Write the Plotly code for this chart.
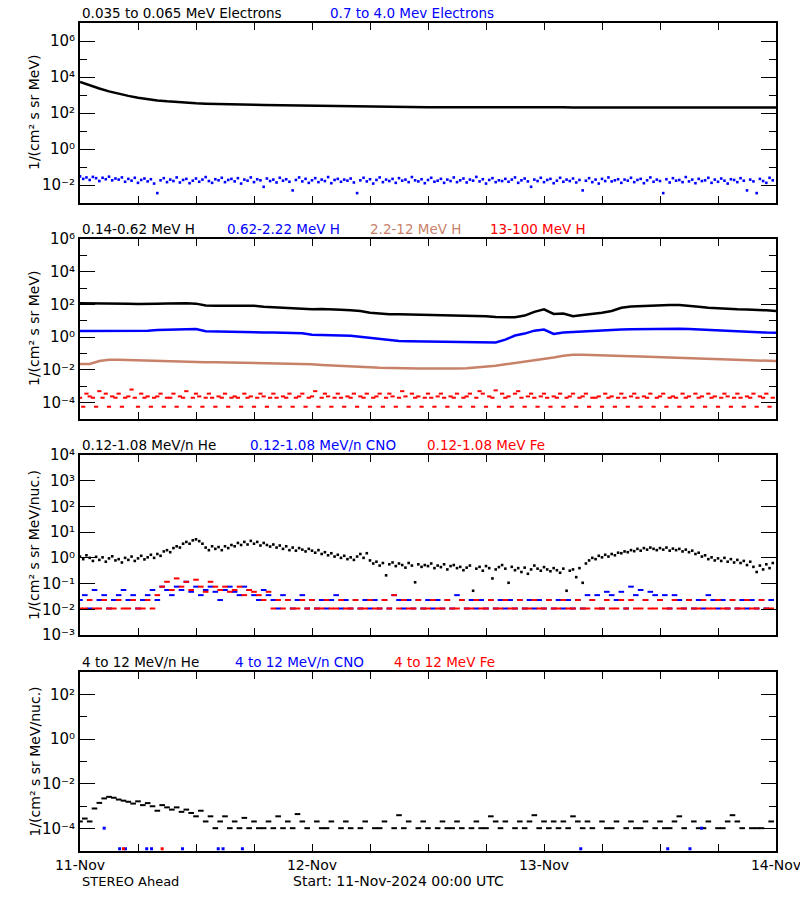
import plotly.graph_objects as go
import pandas as pd

START = "2024-11-11 00:00"
t_hourly = pd.date_range(START, periods=73, freq="h")
t_half = pd.date_range(START, periods=144, freq="30min")
t_20 = pd.date_range(START, periods=216, freq="20min")
day_ticks = pd.date_range(START, periods=4, freq="24h")
day_labels = ["11-Nov", "12-Nov", "13-Nov", "14-Nov"]
six_hour_ticks = pd.date_range(START, periods=13, freq="6h")

# ---------------- data (log10 of flux) ----------------
# Panel 1: electrons (hourly / 20-min)
e_low_log = [3.72, 3.52, 3.36, 3.20, 3.06, 2.95, 2.85, 2.76, 2.70, 2.65,
             2.60, 2.57, 2.54, 2.52, 2.50, 2.49, 2.48, 2.47, 2.46, 2.45,
             2.44, 2.43, 2.42, 2.41, 2.40, 2.39, 2.38, 2.37, 2.36, 2.35,
             2.35, 2.34, 2.33, 2.33, 2.32, 2.32, 2.32, 2.32, 2.32, 2.33,
             2.35, 2.36, 2.36, 2.36, 2.35, 2.35, 2.34, 2.33, 2.32, 2.32,
             2.32, 2.31, 2.31, 2.31, 2.31, 2.31, 2.32, 2.32, 2.31, 2.31,
             2.31, 2.31, 2.31, 2.31, 2.31, 2.31, 2.31, 2.30, 2.30, 2.30,
             2.30, 2.30, 2.30]
e_high_log = [-1.52, -1.66, -1.58, -1.72, -1.55, -1.62, -1.78, -1.60, -1.68, -1.54, -1.74, -1.64,
              -1.70, -1.58, -1.82, -1.66, -1.76, -1.60, -1.88, -1.72, -1.64, -1.80, -1.68, -1.92,
              -2.45, -1.74, -1.62, -1.84, -1.70, -1.78, -1.58, -1.86, -1.72, -1.66, -1.90, -1.76,
              -1.64, -1.82, -1.70, -1.56, -1.78, -1.88, -1.68, -1.74, -1.60, -1.84, -1.72, -1.66,
              -1.80, -1.62, -1.92, -1.70, -1.76, -1.58, -1.84, -1.68, -1.74, -2.10, -1.64, -1.78,
              -1.70, -1.86, -1.60, -1.76, -1.68, -1.82, -2.30, -1.72, -1.58, -1.80, -1.66, -1.88,
              -1.74, -1.62, -1.84, -1.70, -1.78, -1.56, -1.90, -1.72, -1.66, -1.82, -1.70, -1.76,
              -1.64, -1.86, -2.45, -1.74, -1.60, -1.80, -1.68, -1.92, -1.72, -1.58, -1.84, -1.70,
              -1.78, -1.66, -1.88, -1.62, -1.76, -1.70, -1.84, -1.56, -1.74, -1.80, -1.68, -1.90,
              -1.72, -1.60, -1.82, -1.76, -1.66, -1.88, -1.70, -1.78, -1.58, -1.84, -1.74, -1.64,
              -1.86, -1.70, -1.76, -1.55, -1.80, -1.68, -1.92, -1.72, -1.62, -1.84, -1.74, -1.78,
              -1.66, -1.82, -1.70, -1.58, -1.88, -1.74, -1.64, -1.80, -2.10, -1.70, -1.78, -1.60,
              -1.84, -1.72, -1.66, -1.90, -1.76, -1.60, -1.82, -1.70, -1.78, -1.64, -1.86, -1.72,
              -2.30, -1.76, -1.62, -1.84, -1.70, -1.92, -1.66, -1.78, -1.58, -1.80, -1.74, -1.68,
              -1.88, -1.70, -1.76, -1.60, -1.84, -1.72, -1.66, -1.90, -1.74, -1.58, -1.82, -1.70,
              -1.78, -2.45, -1.68, -1.86, -1.62, -1.76, -1.72, -1.84, -1.56, -1.80, -1.70, -1.90,
              -1.66, -1.78, -1.74, -1.60, -1.88, -1.70, -1.82, -1.64, -1.76, -1.92, -1.68, -1.72,
              -1.84, -1.62, -1.76, -2.30, -1.70, -1.80, -2.45, -1.66, -1.78, -1.88, -1.60, -1.74]

# Panel 2: protons (hourly / 20-min)
h1_log = [2.07, 2.07, 2.08, 2.07, 2.06, 2.05, 2.03, 2.02, 2.05, 2.06,
          2.08, 2.07, 2.05, 1.93, 1.92, 1.92, 1.93, 1.95, 1.92, 1.86,
          1.82, 1.79, 1.78, 1.74, 1.70, 1.72, 1.72, 1.68, 1.64, 1.60,
          1.50, 1.43, 1.40, 1.40, 1.39, 1.37, 1.36, 1.35, 1.35, 1.34,
          1.33, 1.32, 1.28, 1.23, 1.21, 1.22, 1.32, 1.55, 1.70, 1.42,
          1.45, 1.28, 1.36, 1.42, 1.50, 1.60, 1.80, 1.88, 1.90, 1.94,
          1.97, 1.97, 1.96, 1.93, 1.86, 1.80, 1.76, 1.72, 1.70, 1.69,
          1.68, 1.64, 1.60]
h2_log = [0.38, 0.38, 0.37, 0.38, 0.37, 0.36, 0.38, 0.40, 0.44, 0.46,
          0.48, 0.52, 0.50, 0.37, 0.35, 0.34, 0.33, 0.32, 0.30, 0.29,
          0.28, 0.27, 0.26, 0.24, 0.15, 0.12, 0.11, 0.10, 0.09, 0.02,
          -0.06, -0.14, -0.20, -0.24, -0.25, -0.26, -0.27, -0.27, -0.28, -0.28,
          -0.29, -0.30, -0.31, -0.32, -0.15, 0.10, 0.22, 0.40, 0.47, 0.20,
          0.28, 0.31, 0.38, 0.40, 0.43, 0.45, 0.47, 0.48, 0.49, 0.50,
          0.52, 0.54, 0.52, 0.50, 0.47, 0.42, 0.40, 0.36, 0.33, 0.31,
          0.29, 0.28, 0.27]
h3_log = [-1.64, -1.64, -1.46, -1.38, -1.38, -1.40, -1.41, -1.42, -1.43, -1.44,
          -1.46, -1.49, -1.52, -1.53, -1.53, -1.54, -1.55, -1.56, -1.57, -1.58,
          -1.58, -1.59, -1.60, -1.62, -1.66, -1.70, -1.72, -1.74, -1.76, -1.78,
          -1.84, -1.87, -1.89, -1.90, -1.91, -1.92, -1.92, -1.93, -1.93, -1.92,
          -1.90, -1.86, -1.80, -1.74, -1.66, -1.58, -1.52, -1.44, -1.34, -1.24,
          -1.14, -1.07, -1.07, -1.08, -1.09, -1.11, -1.13, -1.16, -1.18, -1.20,
          -1.22, -1.23, -1.25, -1.27, -1.30, -1.33, -1.36, -1.38, -1.40, -1.42,
          -1.44, -1.45, -1.46]
h4_log = [-3.70, -4.25, -3.45, -3.62, -3.70, -4.25, -3.30, -3.70, -3.45, -4.25, -3.62, -3.70,
          -3.45, -4.25, -3.70, -3.62, -3.20, -3.70, -4.25, -3.45, -3.70, -3.62, -4.25, -3.70,
          -3.62, -3.45, -4.25, -3.70, -3.70, -3.45, -4.25, -3.62, -3.70, -3.30, -4.25, -3.70,
          -3.45, -3.62, -4.25, -3.70, -3.45, -3.70, -4.25, -3.62, -3.70, -3.45, -4.25, -3.70,
          -3.62, -3.70, -4.25, -3.45, -3.70, -3.62, -4.25, -3.70, -3.45, -3.62, -4.25, -3.70,
          -3.45, -3.70, -4.25, -3.62, -3.70, -3.45, -4.25, -3.70, -3.62, -3.45, -4.25, -3.70,
          -3.62, -3.30, -4.25, -3.70, -3.45, -3.62, -4.25, -3.70, -3.45, -3.70, -4.25, -3.62,
          -3.70, -3.45, -4.25, -3.62, -3.70, -3.45, -4.25, -3.70, -3.62, -3.45, -4.25, -3.70,
          -3.45, -3.62, -4.25, -3.70, -3.30, -3.62, -4.25, -3.45, -3.70, -3.62, -4.25, -3.70,
          -3.45, -3.70, -4.25, -3.62, -3.45, -3.70, -4.25, -3.62, -3.70, -3.45, -4.25, -3.70,
          -3.62, -3.45, -4.25, -3.70, -3.30, -3.45, -4.25, -3.62, -3.70, -3.25, -4.25, -3.45,
          -3.70, -3.62, -4.25, -3.45, -3.30, -3.70, -4.25, -3.62, -3.45, -3.70, -4.25, -3.62,
          -3.45, -3.70, -4.25, -3.62, -3.70, -3.45, -4.25, -3.70, -3.62, -3.45, -4.25, -3.70,
          -3.62, -3.45, -4.25, -3.70, -3.70, -3.62, -4.25, -3.45, -3.70, -3.62, -4.25, -3.70,
          -3.45, -3.70, -4.25, -3.62, -3.45, -3.70, -4.25, -3.62, -3.70, -3.45, -4.25, -3.70,
          -3.62, -3.45, -4.25, -3.70, -3.62, -3.70, -4.25, -3.45, -3.70, -3.62, -4.25, -3.45,
          -3.70, -3.62, -4.25, -3.45, -3.70, -3.62, -4.25, -3.70, -3.45, -3.62, -4.25, -3.70,
          -3.45, -3.70, -4.25, -3.62, -3.70, -3.45, -4.25, -3.62, -3.70, -3.45, -4.25, -3.70]

# Panel 3: 0.12-1.08 MeV/n heavy ions (He 20-min, CNO/Fe 30-min)
he_low_log = [0.05, -0.05, 0.10, 0.00, -0.12, 0.04, -0.08, 0.02, -0.15, -0.02, 0.06, -0.10,
              -0.05, -0.18, 0.00, -0.08, 0.05, -0.12, -0.02, 0.08, -0.06, 0.02, 0.12, 0.00,
              0.15, 0.08, 0.25, 0.30, 0.22, 0.38, 0.45, 0.40, 0.55, 0.62, 0.55, 0.68,
              0.72, 0.65, 0.55, 0.40, 0.30, 0.45, 0.35, 0.42, 0.30, 0.45, 0.38, 0.50,
              0.45, 0.58, 0.50, 0.62, 0.52, 0.66, 0.55, 0.62, 0.48, 0.58, 0.50, 0.44,
              0.52, 0.40, 0.48, 0.35, 0.45, 0.30, 0.40, 0.28, 0.38, 0.32, 0.25, 0.35,
              0.28, 0.20, 0.30, 0.15, 0.22, 0.10, 0.18, 0.05, 0.12, 0.00, 0.08, -0.05,
              0.02, -0.08, 0.05, 0.15, 0.00, 0.18, -0.10, -0.22, -0.15, -0.30, -0.20, -0.68,
              -0.25, -0.18, -0.32, -0.22, -0.28, -0.38, -0.20, -0.30, -0.95, -0.25, -0.35, -0.28,
              -0.32, -0.22, -0.40, -0.30, -0.36, -0.25, -0.45, -0.32, -0.28, -0.40, -0.35, -0.48,
              -0.38, -0.30, -1.28, -0.42, -0.35, -0.50, -0.32, -0.40, -0.80, -0.45, -0.36, -0.28,
              -0.42, -0.97, -0.35, -0.48, -0.40, -0.55, -0.38, -0.62, -0.45, -0.30, -0.42, -0.50,
              -0.36, -0.45, -0.52, -0.40, -0.48, -0.58, -0.42, -1.28, -0.50, -0.45, -0.75, -0.40,
              -0.97, -0.22, -0.10, 0.00, -0.05, 0.08, 0.02, 0.12, 0.05, 0.15, 0.10, 0.20,
              0.18, 0.25, 0.22, 0.30, 0.26, 0.35, 0.28, 0.38, 0.32, 0.40, 0.35, 0.30,
              0.38, 0.32, 0.40, 0.28, 0.36, 0.30, 0.35, 0.25, 0.32, 0.22, 0.28, 0.15,
              0.20, 0.05, 0.10, -0.05, 0.02, -0.10, -0.02, -0.12, 0.00, -0.15, -0.05, -0.18,
              -0.08, -0.20, -0.12, -0.28, -0.15, -0.35, -0.55, -0.30, -0.45, -0.25, -0.40, -0.20]
cno_low_log = [-1.64, -1.45, -1.97, -1.25, -1.64, -1.45, -1.97, -1.64, -1.45, -1.25,
               -1.64, -1.45, -1.97, -1.64, -1.45, -1.25, -1.64, -1.12, -1.25, -1.45,
               -1.12, -1.25, -0.93, -1.32, -1.12, -1.45, -1.25, -1.12, -1.32, -1.64,
               -1.25, -1.12, -1.32, -1.45, -1.12, -1.25, -1.45, -1.64, -1.25, -1.45,
               -1.64, -1.97, -1.45, -1.64, -1.97, -1.64, -1.45, -1.97, -1.64, -1.97,
               -1.64, -1.97, -1.64, -1.45, -1.97, -1.64, -1.97, -1.64, -1.97, -1.64,
               -1.97, -1.64, -1.97, -1.64, -1.97, -1.45, -1.64, -1.97, -1.64, -1.97,
               -1.64, -1.97, -1.64, -1.97, -1.64, -1.97, -1.64, -1.97, -1.45, -1.64,
               -1.97, -1.64, -1.97, -1.64, -1.97, -1.64, -1.97, -1.64, -1.97, -1.64,
               -1.97, -1.64, -1.97, -1.64, -1.97, -1.64, -1.97, -1.64, -1.97, -1.64,
               -1.97, -1.64, -1.97, -1.64, -1.97, -1.45, -1.64, -1.45, -1.97, -1.32,
               -1.45, -1.64, -1.32, -1.97, -1.12, -1.45, -1.25, -1.64, -1.32, -1.45,
               -1.64, -1.45, -1.97, -1.45, -1.64, -1.97, -1.64, -1.97, -1.64, -1.97,
               -1.45, -1.64, -1.97, -1.64, -1.97, -1.64, -1.97, -1.64, -1.97, -1.64,
               -1.97, -1.64, -1.97, -1.64]
fe_low_log = [-1.97, -1.97, -1.64, -1.97, -1.97, -1.64, -1.97, -1.97, -1.64, -1.97,
              -1.97, -1.64, -1.97, -1.97, -1.64, -1.97, -1.45, -1.12, -0.93, -1.25,
              -0.80, -1.12, -0.93, -1.25, -0.85, -1.12, -1.32, -0.93, -1.12, -1.25,
              -1.12, -1.32, -1.25, -1.12, -1.45, -1.25, -1.32, -1.45, -1.64, -1.32,
              -1.97, -1.64, -1.97, -1.64, -1.97, -1.97, -1.64, -1.97, -1.64, -1.97,
              -1.97, -1.64, -1.97, -1.97, -1.64, -1.97, -1.97, -1.64, -1.97, -1.97,
              -1.64, -1.97, -1.97, -1.64, -1.97, -1.45, -1.97, -1.64, -1.97, -1.97,
              -1.64, -1.97, -1.97, -1.64, -1.97, -1.97, -1.64, -1.97, -1.97, -1.64,
              -1.97, -1.97, -1.64, -1.97, -1.97, -1.64, -1.97, -1.97, -1.64, -1.97,
              -1.97, -1.64, -1.97, -1.97, -1.64, -1.97, -1.97, -1.64, -1.97, -1.97,
              -1.64, -1.97, -1.97, -1.64, -1.97, -1.97, -1.64, -1.97, -1.97, -1.64,
              -1.97, -1.97, -1.64, -1.97, -1.64, -1.97, -1.97, -1.64, -1.97, -1.97,
              -1.64, -1.97, -1.97, -1.64, -1.97, -1.97, -1.64, -1.97, -1.97, -1.64,
              -1.97, -1.97, -1.64, -1.97, -1.97, -1.64, -1.97, -1.97, -1.64, -1.97,
              -1.97, -1.64, -1.97, -1.97]

# Panel 4: 4-12 MeV/n heavy ions (30-min)
he_high_log = [-3.68, -3.55, -3.68, -3.10, -2.85, -2.65, -2.58, -2.62, -2.70, -2.75,
               -2.80, -2.88, -2.78, -2.95, -2.86, -3.00, -3.20, -2.95, -3.05, -3.15,
               -3.05, -3.25, -3.15, -3.30, -3.45, -3.20, -3.68, -3.45, -3.98, -3.68,
               -3.45, -3.98, -3.68, -3.98, -3.52, -3.98, -3.68, -3.98, -3.98, -3.68,
               -3.98, -3.45, -3.98, -3.68, -3.98, -3.35, -3.68, -3.98, None, -3.68,
               -3.98, -3.98, -3.68, None, -3.98, -3.68, -3.98, None, -3.98, -3.68,
               None, -3.98, -3.98, -3.68, None, -3.98, -3.40, -3.98, -3.68, None,
               -3.98, -3.68, -3.98, None, -3.98, -3.68, -3.98, -3.98, -3.68, -3.98,
               None, -3.98, -3.68, -3.98, -3.98, -3.45, -3.68, -3.98, -3.68, None,
               -3.98, -3.68, -3.98, -3.68, -3.40, -3.98, -3.68, -3.98, -3.68, -3.98,
               -3.68, -3.98, -3.45, -3.68, -3.98, -3.68, -3.98, None, -3.68, -3.98,
               -3.98, -3.68, None, -3.98, -3.68, -3.98, -3.98, -3.68, None, -3.98,
               -3.68, -3.98, -3.98, -3.68, -3.45, -3.98, None, -3.68, -3.98, -3.98,
               -3.68, None, -3.98, -3.98, -3.68, -3.40, -3.68, -3.98, None, -3.98,
               -3.98, -3.98, None, -3.68]
cno_high_hours = [2.5, 4.1, 4.7, 6.9, 7.4, 10.6, 14.3, 14.8, 16.8, 51.8, 60.8, 63.1, 64.3]
cno_high_log = [-3.98, -4.90, -4.90, -4.90, -4.90, -4.90, -4.90, -4.90, -4.90, -4.90, -4.90, -4.90, -3.98]
fe_high_hours = [4.5, 8.5]
fe_high_log = [-4.90, -4.90]

# ---------------- helpers ----------------
def lin(vals):
    return [None if v is None else 10 ** v for v in vals]

def at_hours(hours):
    return [pd.Timestamp(START) + pd.Timedelta(hours=h) for h in hours]

BLACK = "#000000"
BLUE = "#0000ff"
BROWN = "#c8826a"
RED = "#ff0000"
FONT = "DejaVu Sans"

fig = go.Figure()

def line_trace(x, y, color, ax):
    fig.add_trace(go.Scatter(x=x, y=lin(y), mode="lines",
                             line=dict(color=color, width=2.5),
                             xaxis="x" + ax, yaxis="y" + ax, showlegend=False))

def dot_trace(x, y, color, ax, size=3):
    fig.add_trace(go.Scatter(x=x, y=lin(y), mode="markers",
                             marker=dict(symbol="square", size=size, color=color, line=dict(width=0)),
                             xaxis="x" + ax, yaxis="y" + ax, showlegend=False))

def dash_trace(x, y, color, ax, size=4):
    fig.add_trace(go.Scatter(x=x, y=lin(y), mode="markers",
                             marker=dict(symbol="line-ew", size=size, color=color,
                                         line=dict(width=2, color=color)),
                             xaxis="x" + ax, yaxis="y" + ax, showlegend=False))

# panel 1
line_trace(t_hourly, e_low_log, BLACK, "")
dot_trace(t_20, e_high_log, BLUE, "", size=2.6)
# panel 2
line_trace(t_hourly, h1_log, BLACK, "2")
line_trace(t_hourly, h2_log, BLUE, "2")
line_trace(t_hourly, h3_log, BROWN, "2")
dash_trace(t_20, h4_log, RED, "2", size=3)
# panel 3
dot_trace(t_20, he_low_log, BLACK, "3", size=2.6)
dash_trace(t_half, cno_low_log, BLUE, "3")
dash_trace(t_half, fe_low_log, RED, "3")
# panel 4
dash_trace(t_half, he_high_log, BLACK, "4")
dot_trace(at_hours(cno_high_hours), cno_high_log, BLUE, "4")
dot_trace(at_hours(fe_high_hours), fe_high_log, RED, "4")

# ---------------- layout ----------------
W, H = 800, 900
ML, MR, MT, MB = 80, 24, 23, 49
PH = H - MT - MB
PW = W - ML - MR
panel_px = [(23, 203), (239, 419), (455, 635), (672, 851)]
y_ranges = [(-3, 7), (-5, 6), (-3, 4), (-5, 3)]
y_major = [[-2, 0, 2, 4, 6], [-4, -2, 0, 2, 4, 6], [-3, -2, -1, 0, 1, 2, 3, 4], [-4, -2, 0, 2]]
y_minor = [[-3, -1, 1, 3, 5, 7], [-5, -3, -1, 1, 3, 5], [], [-5, -3, -1, 1, 3]]

SUP = str.maketrans("0123456789-", "\u2070\u00b9\u00b2\u00b3\u2074\u2075\u2076\u2077\u2078\u2079\u207b")

def py(p):
    return (H - MB - p) / PH

def px(p):
    return (p - ML) / PW

def exp_label(k):
    return "10" + str(k).translate(SUP)

layout = dict(width=W, height=H, autosize=False,
              margin=dict(l=ML, r=MR, t=MT, b=MB, pad=0),
              paper_bgcolor="white", plot_bgcolor="white",
              font=dict(family=FONT, size=14, color="black"),
              showlegend=False)

for i in range(4):
    sfx = "" if i == 0 else str(i + 1)
    top, bot = panel_px[i]
    xax = dict(
        type="date", domain=[0, 1], anchor="y" + sfx,
        range=[day_ticks[0], day_ticks[-1]],
        ticks="inside", ticklen=7, tickwidth=1, tickcolor="black",
        showline=True, linewidth=2, linecolor="black", mirror="allticks",
        showgrid=False, zeroline=False, automargin=False,
        minor=dict(tickmode="array", tickvals=list(six_hour_ticks), ticks="inside",
                   ticklen=7, tickwidth=1, tickcolor="black", showgrid=False),
        tickfont=dict(family=FONT, size=14, color="black"))
    if i == 3:
        xax.update(tickmode="array", tickvals=list(day_ticks), ticktext=day_labels,
                   showticklabels=True, ticklabeloverflow="allow")
    else:
        xax.update(tickmode="array", tickvals=list(day_ticks), showticklabels=False)
    layout["xaxis" + sfx] = xax
    lo, hi = y_ranges[i]
    yax = dict(
        type="log", domain=[py(bot), py(top)], anchor="x" + sfx,
        range=[lo, hi],
        tickmode="array", tickvals=[10 ** k for k in y_major[i]],
        ticktext=[exp_label(k) for k in y_major[i]],
        ticks="inside", ticklen=15, tickwidth=1, tickcolor="black",
        showline=True, linewidth=2, linecolor="black", mirror="allticks",
        showgrid=False, zeroline=False, automargin=False,
        tickfont=dict(family=FONT, size=15, color="black"))
    if y_minor[i]:
        yax["minor"] = dict(tickmode="array", tickvals=[10 ** k for k in y_minor[i]],
                            ticks="inside", ticklen=7, tickwidth=1, tickcolor="black",
                            showgrid=False)
    layout["yaxis" + sfx] = yax

fig.update_layout(**layout)

# panel titles
titles = [
    [(80, "0.035 to 0.065 MeV Electrons", BLACK), (328, "0.7 to 4.0 Mev Electrons", BLUE)],
    [(80, "0.14-0.62 MeV H", BLACK), (225, "0.62-2.22 MeV H", BLUE),
     (368, "2.2-12 MeV H", BROWN), (488, "13-100 MeV H", RED)],
    [(80, "0.12-1.08 MeV/n He", BLACK), (248, "0.12-1.08 MeV/n CNO", BLUE),
     (425, "0.12-1.08 MeV Fe", RED)],
    [(80, "4 to 12 MeV/n He", BLACK), (233, "4 to 12 MeV/n CNO", BLUE),
     (392, "4 to 12 MeV Fe", RED)],
]
ytitles = ["1/(cm\u00b2 s sr MeV)", "1/(cm\u00b2 s sr MeV)",
           "1/(cm\u00b2 s sr MeV/nuc.)", "1/(cm\u00b2 s sr MeV/nuc.)"]

ann = []
for i in range(4):
    top, bot = panel_px[i]
    for xp, txt, col in titles[i]:
        ann.append(dict(text=txt, xref="paper", yref="paper", x=px(xp), y=py(top),
                        xanchor="left", yanchor="middle", yshift=10, showarrow=False,
                        font=dict(family=FONT, size=13.5, color=col)))
    ann.append(dict(text=ytitles[i], xref="paper", yref="paper", x=px(34),
                    y=py((top + bot) / 2), xanchor="center", yanchor="middle",
                    textangle=-90, showarrow=False,
                    font=dict(family=FONT, size=14, color="black")))

ann.append(dict(text="STEREO Ahead", xref="paper", yref="paper", x=px(80), y=py(881),
                xanchor="left", yanchor="middle", showarrow=False,
                font=dict(family=FONT, size=13, color="black")))
ann.append(dict(text="Start: 11-Nov-2024 00:00 UTC", xref="paper", yref="paper",
                x=px(291), y=py(881), xanchor="left", yanchor="middle", showarrow=False,
                font=dict(family=FONT, size=14, color="black")))
fig.update_layout(annotations=ann)

fig.write_html("out.html", config={"displayModeBar": False},
               post_script="document.body.style.margin='0px';document.body.style.overflow='hidden';")
